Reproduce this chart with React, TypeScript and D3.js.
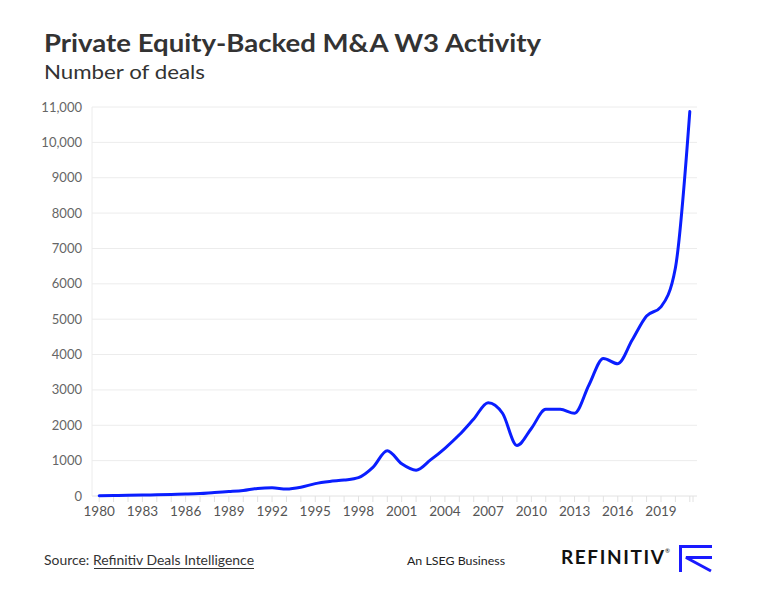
import React from "react";
import * as d3 from "d3";

const years: number[] = [
  1980, 1981, 1982, 1983, 1984, 1985, 1986, 1987, 1988, 1989,
  1990, 1991, 1992, 1993, 1994, 1995, 1996, 1997, 1998, 1999,
  2000, 2001, 2002, 2003, 2004, 2005, 2006, 2007, 2008, 2009,
  2010, 2011, 2012, 2013, 2014, 2015, 2016, 2017, 2018, 2019,
  2020, 2021,
];
const deals: number[] = [
  10, 12, 18, 25, 35, 45, 55, 70, 100, 125,
  155, 215, 230, 200, 250, 350, 410, 450, 520, 810,
  1280, 910, 730, 1020, 1350, 1730, 2180, 2640, 2340, 1430,
  1910, 2450, 2450, 2340, 3140, 3890, 3740, 4410, 5090, 5350,
  6450, 10870,
];
const yTicks: number[] = [0, 1000, 2000, 3000, 4000, 5000, 6000, 7000, 8000, 9000, 10000, 11000];
const xTickLabels: number[] = [1980, 1983, 1986, 1989, 1992, 1995, 1998, 2001, 2004, 2007, 2010, 2013, 2016, 2019];

const W = 771;
const H = 597;
const FONT = "Lato, 'Open Sans', sans-serif";

function fmt(v: number): string {
  return v >= 10000 ? d3.format(",")(v) : String(v);
}

export default function App() {
  const left = 92;
  const right = 697;
  const top = 107;
  const bottom = 496;

  const x = d3.scalePoint<number>().domain(years).range([left, right]).padding(0.5);
  const y = d3.scaleLinear().domain([0, 11000]).range([bottom, top]);

  const line = d3
    .line<number>()
    .x((_, i) => x(years[i]) as number)
    .y((d) => y(d))
    .curve(d3.curveMonotoneX);

  return (
    <svg
      width={W}
      height={H}
      viewBox={`0 0 ${W} ${H}`}
      style={{ position: "absolute", left: 0, top: 0, background: "#fff" }}
      fontFamily={FONT}
    >
      <rect x={0} y={0} width={W} height={H} fill="#fff" />
      <text x={44} y={52} fontSize={25.5} fontWeight={700} fill="#333" textLength={497} lengthAdjust="spacingAndGlyphs">
        Private Equity-Backed M&amp;A W3 Activity
      </text>
      <text x={44} y={79} fontSize={20} fill="#333" textLength={161} lengthAdjust="spacingAndGlyphs">
        Number of deals
      </text>

      {/* grid */}
      {yTicks.map((t) => (
        <g key={t}>
          <line x1={left} x2={right} y1={y(t)} y2={y(t)} stroke={t === 0 ? "#e2e2e2" : "#ececec"} strokeWidth={1} />
          <text
            x={82}
            y={y(t)}
            dy="0.35em"
            textAnchor="end"
            fontSize={13}
            fill="#666"
          >
            {fmt(t)}
          </text>
        </g>
      ))}
      <line x1={left} x2={left} y1={top} y2={bottom} stroke="#ececec" />

      {/* x ticks */}
      {years.map((yr) => (
        <line
          key={yr}
          x1={x(yr)}
          x2={x(yr)}
          y1={bottom}
          y2={bottom + 6}
          stroke="#e2e2e2"
        />
      ))}
      <line x1={right - 4} x2={right - 4} y1={bottom} y2={bottom + 6} stroke="#e2e2e2" />
      {xTickLabels.map((yr) => (
        <text
          key={yr}
          x={x(yr)}
          y={516}
          textAnchor="middle"
          fontSize={13.5}
          fill="#555"
        >
          {yr}
        </text>
      ))}

      <path
        d={line(deals) || ""}
        fill="none"
        stroke="#0a1eff"
        strokeWidth={3}
        strokeLinejoin="round"
        strokeLinecap="round"
      />

      {/* footer */}
      <text x={44} y={565} fontSize={13.5} fill="#333" textLength={210} lengthAdjust="spacingAndGlyphs">
        Source: Refinitiv Deals Intelligence
      </text>
      <line x1={94} x2={254} y1={568.5} y2={568.5} stroke="#333" strokeWidth={1} />
      <text x={407} y={565} fontSize={12} fill="#222" textLength={98} lengthAdjust="spacingAndGlyphs">
        An LSEG Business
      </text>
      <text x={561} y={564} fontSize={19} fontWeight={700} fill="#111" letterSpacing={1.6}>
        REFINITIV
      </text>
      <text x={665} y={553} fontSize={6} fill="#111">®</text>
      <g stroke="#1a1aff" strokeWidth={3} fill="none">
        <line x1={680.5} x2={680.5} y1={545} y2={572} />
        <line x1={679} x2={712} y1={546.5} y2={546.5} />
        <polyline points="712,557.5 686,557.5 711,571" />
      </g>
    </svg>
  );
}
